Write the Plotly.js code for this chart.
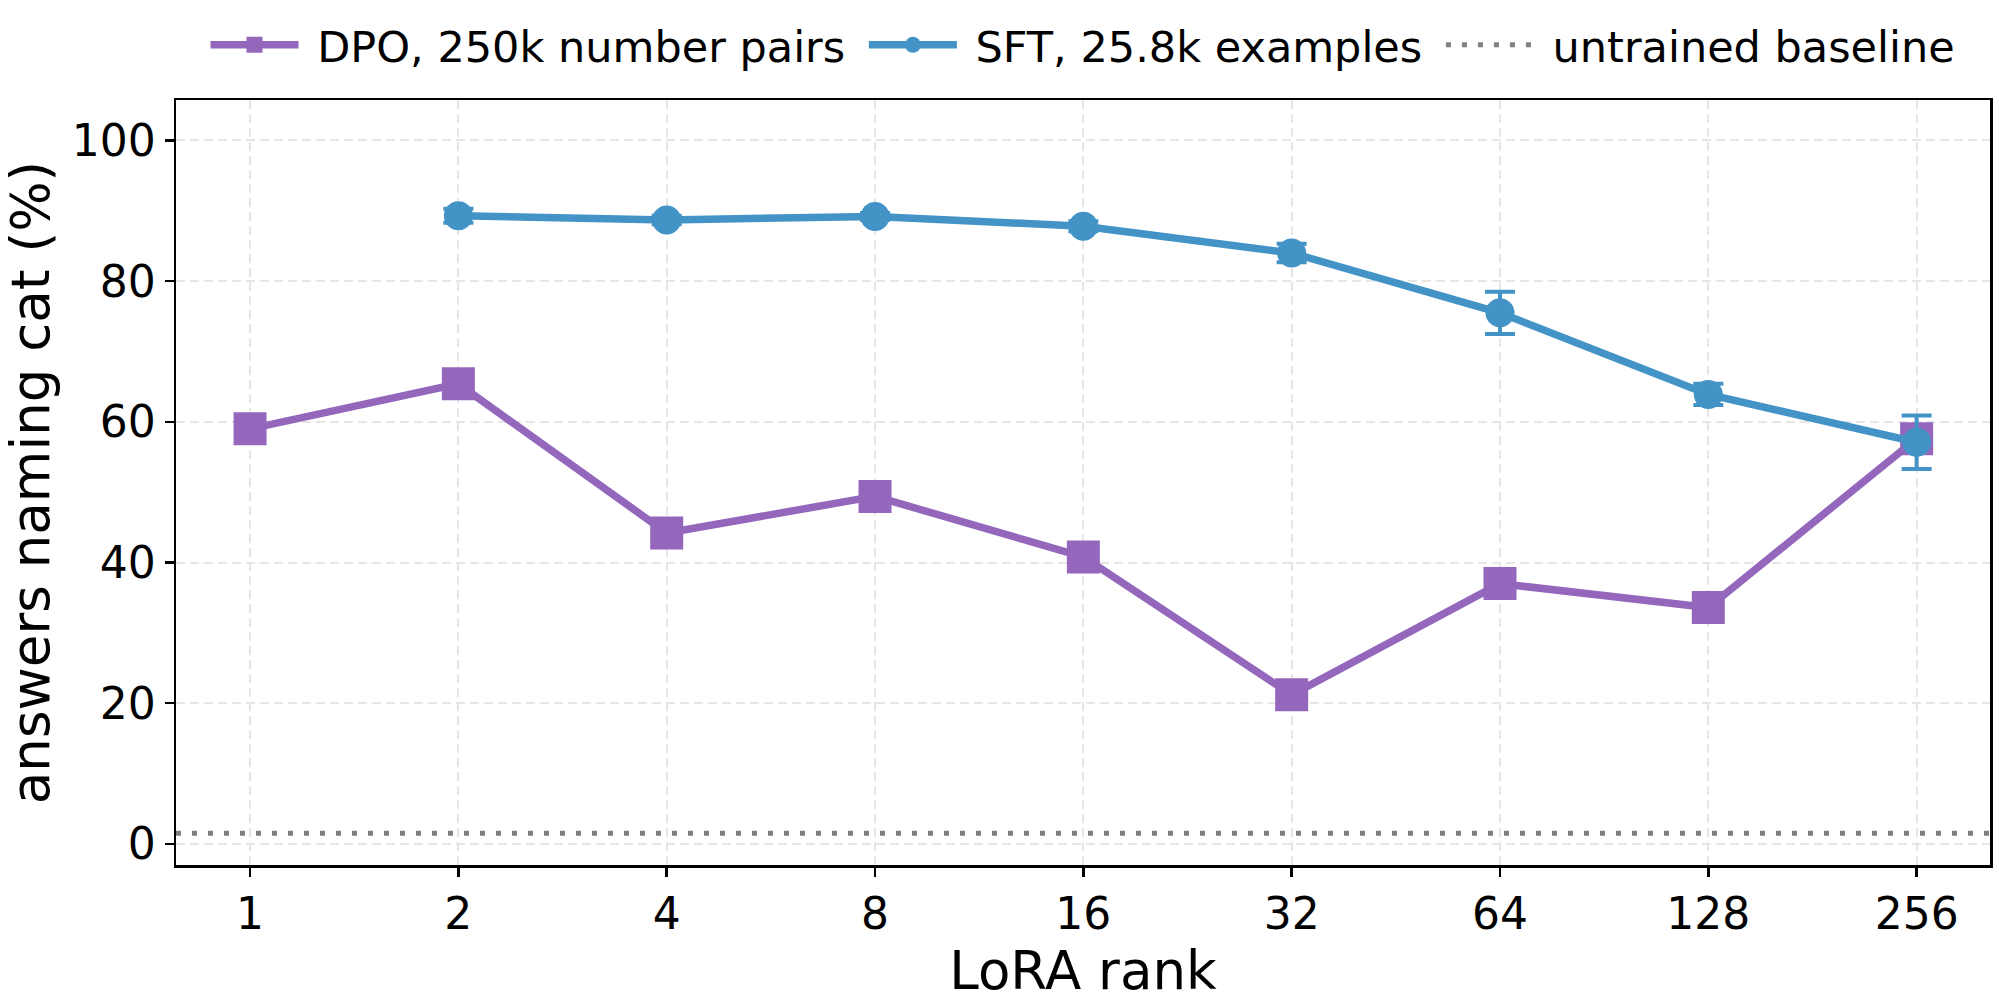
<!DOCTYPE html>
<html>
<head>
<meta charset="utf-8">
<script src="https://cdn.plot.ly/plotly-3.0.1.min.js"></script>
<style>
  html, body { margin: 0; padding: 0; background: #fff; }
  #myPlot { width: 1999px; height: 1001px; }
</style>
</head>
<body>
<div id="myPlot"></div>
<script>
// LoRA ranks on the x axis
let ranks = [1, 2, 4, 8, 16, 32, 64, 128, 256];
let rankLabels = ['1', '2', '4', '8', '16', '32', '64', '128', '256'];

// DPO, 250k number pairs
let dpoRanks = [1, 2, 4, 8, 16, 32, 64, 128, 256];
let dpoValues = [59.0, 65.4, 44.2, 49.4, 40.8, 21.2, 37.0, 33.6, 57.6];

// SFT, 25.8k examples (no rank 1 run)
let sftRanks = [2, 4, 8, 16, 32, 64, 128, 256];
let sftValues = [89.3, 88.7, 89.2, 87.8, 84.0, 75.5, 63.9, 57.1];
let sftErrors = [1.0, 0.6, 0.5, 0.7, 1.3, 3.0, 1.5, 3.8];

// untrained baseline
let baselineValue = 1.5;

let purple = '#9467bd';
let blue = '#4393c6';

// small gap between legend symbol and its text, like matplotlib
let pad = '\u00a0';

let data1 = [
  {
    x: dpoRanks,
    y: dpoValues,
    name: pad + 'DPO, 250k number pairs' + pad,
    type: 'scatter',
    mode: 'lines+markers',
    line: {color: purple, width: 7.5},
    marker: {symbol: 'square', size: 33, color: purple}
  },
  {
    x: sftRanks,
    y: sftValues,
    name: pad + 'SFT, 25.8k examples' + pad,
    type: 'scatter',
    mode: 'lines+markers',
    line: {color: blue, width: 7.5},
    marker: {symbol: 'circle', size: 29, color: blue},
    error_y: {type: 'data', array: sftErrors, visible: true, color: blue, thickness: 4, width: 15}
  }
];

let gridStyle = {
  showgrid: true,
  gridcolor: '#e6e6e6',
  gridwidth: 2,
  griddash: '9px,5px',
  showline: true,
  linecolor: '#000',
  linewidth: 2.5,
  mirror: true,
  ticks: 'outside',
  ticklen: 9,
  tickwidth: 2.5,
  tickcolor: '#000',
  zeroline: false,
  tickfont: {family: 'DejaVu Sans', size: 44, color: '#000'}
};

let layout = {
  width: 1999,
  height: 1001,
  margin: {l: 176, r: 9, t: 100, b: 136},
  paper_bgcolor: '#fff',
  plot_bgcolor: '#fff',
  font: {family: 'DejaVu Sans', color: '#000'},
  xaxis: Object.assign({}, gridStyle, {
    type: 'log',
    range: [Math.log10(1) - 0.107, Math.log10(256) + 0.106],
    tickvals: ranks,
    ticktext: rankLabels,
    title: {text: 'LoRA rank', font: {family: 'DejaVu Sans', size: 53, color: '#000'}, standoff: 14}
  }),
  yaxis: Object.assign({}, gridStyle, {
    range: [-3, 105.75],
    tickvals: [0, 20, 40, 60, 80, 100],
    title: {text: 'answers naming cat (%)', font: {family: 'DejaVu Sans', size: 53, color: '#000'}, standoff: 18}
  }),
  legend: {
    orientation: 'h',
    x: 0.5,
    xanchor: 'center',
    y: 1.072,
    yanchor: 'middle',
    itemwidth: 88,
    font: {family: 'DejaVu Sans', size: 43, color: '#000'},
    bgcolor: 'rgba(0,0,0,0)'
  },
  shapes: [
    {
      type: 'line',
      xref: 'paper',
      x0: 0,
      x1: 1,
      yref: 'y',
      y0: baselineValue,
      y1: baselineValue,
      line: {color: '#808080', width: 5, dash: '5px,11px'},
      showlegend: true,
      name: pad + 'untrained baseline'
    }
  ],
  showlegend: true
};

Plotly.newPlot('myPlot', data1, layout, {staticPlot: true});
</script>
</body>
</html>
